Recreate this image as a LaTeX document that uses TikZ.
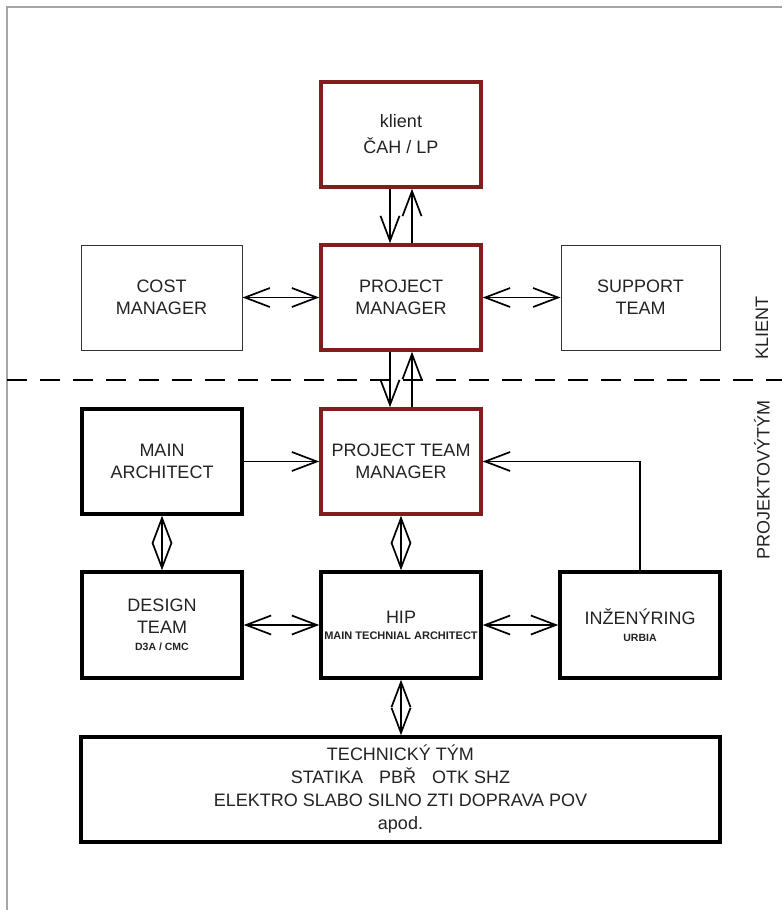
\documentclass[tikz,border=0pt]{standalone}
\usepackage{fontspec}
\setmainfont{Liberation Sans}
\usetikzlibrary{arrows.meta}
\definecolor{dred}{RGB}{128,30,30}
\definecolor{framegray}{RGB}{165,165,165}
\definecolor{txt}{RGB}{35,35,35}
\newcommand{\smallfnt}{\fontsize{10.5}{12}\selectfont\bfseries}
\newcommand{\hipfnt}{\fontsize{11}{12}\selectfont\bfseries}
\begin{document}
\begin{tikzpicture}[x=1pt,y=-1pt,
  box/.style={draw, rectangle, minimum width=160pt, minimum height=105pt, inner sep=0pt, align=center, text=txt, font=\fontsize{18}{22}\selectfont},
  redbox/.style={box, draw=dred, line width=3.5pt},
  blackbox/.style={box, line width=3.5pt},
  thinbox/.style={box, draw=black!80, line width=1pt},
  tipA/.tip={Straight Barb[length=25pt,width=19pt]},
  conn/.style={line width=1.7pt, -tipA},
  bconn/.style={line width=1.7pt, tipA-tipA},
  sidelabel/.style={rotate=90, inner sep=0pt, text=txt, font=\fontsize{18}{22}\selectfont}
]
\fill[white] (0,0) rectangle (782,910);
\useasboundingbox (0,0) rectangle (782,910);
% frame
\draw[framegray, line width=1.5pt] (7,910) -- (7,7) -- (782,7);
% dashed separator
\coordinate (dl) at (7,380);
\coordinate (dr) at (782,380);
\draw[line width=2pt, dash pattern=on 20pt off 13pt] (dl) -- (dr);

% boxes
\node[redbox] (client) at (401,134.5) {klient\\[4pt]ČAH / LP};
\node[redbox] (pm) at (401,297.5) {PROJECT\\MANAGER};
\node[thinbox, minimum width=161pt] (cost) at (161.5,297.5) {COST\\MANAGER};
\node[thinbox, minimum width=159pt] (support) at (640.5,297.5) {SUPPORT\\TEAM};
\node[blackbox] (ma) at (162,461.5) {MAIN\\ARCHITECT};
\node[redbox] (ptm) at (401,461.5) {PROJECT TEAM\\MANAGER};
\node[blackbox, minimum height=106pt] (dt) at (162,625) {DESIGN\\TEAM\\[-5pt]{\smallfnt D3A / CMC}};
\node[blackbox, minimum height=106pt] (hip) at (401,625) {HIP\\[-6pt]{\hipfnt MAIN TECHNIAL ARCHITECT}};
\node[blackbox, minimum height=106pt] (inz) at (640,625) {INŽENÝRING\\[-5pt]{\smallfnt URBIA}};
\node[blackbox, minimum width=639pt, minimum height=105pt, font=\fontsize{18}{23}\selectfont] (tech) at (400.5,789.5)
  {TECHNICKÝ TÝM\\STATIKA\hspace{16pt}PBŘ\hspace{16pt}OTK SHZ\\ELEKTRO SLABO SILNO ZTI DOPRAVA POV\\apod.};

% side labels
\node[sidelabel] (kl) at (762,328) {KLIENT};
\node[sidelabel] (pt) at (762,480) {PROJEKTOVÝTÝM};

% connectors
\draw[conn] ([xshift=-11pt]client.south) -- ([xshift=-11pt]pm.north);
\draw[conn] ([xshift=11pt]pm.north) -- ([xshift=11pt]client.south);
\draw[conn] ([xshift=-11pt]pm.south) -- ([xshift=-11pt]ptm.north);
\draw[conn] ([xshift=11pt]ptm.north) -- ([xshift=11pt]pm.south);
\draw[bconn] (cost.east) -- (pm.west);
\draw[bconn] (pm.east) -- (support.west);
\draw[conn] (ma.east) -- (ptm.west);
\draw[bconn] (ma.south) -- (dt.north);
\draw[bconn] (ptm.south) -- (hip.north);
\draw[bconn] (dt.east) -- (hip.west);
\draw[bconn] (hip.east) -- (inz.west);
\draw[conn] (inz.north) |- (ptm.east);
\draw[bconn] (hip.south) -- (hip.south |- tech.north);
\end{tikzpicture}
\end{document}
